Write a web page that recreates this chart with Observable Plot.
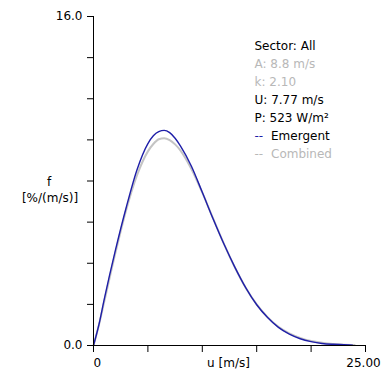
<!DOCTYPE html>
<html>
<head>
<meta charset="utf-8">
<script src="https://cdn.jsdelivr.net/npm/d3@7"></script>
<script src="https://cdn.jsdelivr.net/npm/@observablehq/plot@0.6"></script>
<style>
  html, body { margin: 0; padding: 0; background: #fff; }
  svg { display: block; }
</style>
</head>
<body>
<div id="chart"></div>
<script>
// Wind speed u [m/s] and frequency f [%/(m/s)]
const emergentU = [0, 0.5, 1, 2, 3, 4, 5, 5.5, 6, 6.5, 7, 7.5, 8, 9, 10, 11, 12, 13, 14, 15, 16, 17, 18, 19, 20, 21, 22, 23, 23.8];
const emergentF = [0, 1.02, 2.28, 4.6, 6.7, 8.55, 9.82, 10.2, 10.4, 10.46, 10.35, 10.08, 9.7, 8.72, 7.45, 6.15, 4.92, 3.8, 2.8, 1.98, 1.36, 0.88, 0.55, 0.33, 0.19, 0.1, 0.06, 0.04, 0.02];
const combinedU = [0, 0.5, 1, 2, 3, 4, 5, 5.5, 6, 6.5, 7, 7.5, 8, 9, 10, 11, 12, 13, 14, 15, 16, 17, 18, 19, 20, 21, 22, 23, 24];
const combinedF = [0, 1.0, 2.16, 4.47, 6.58, 8.28, 9.44, 9.8, 10.03, 10.08, 9.99, 9.78, 9.48, 8.58, 7.43, 6.17, 4.93, 3.79, 2.8, 2.0, 1.38, 0.91, 0.59, 0.37, 0.22, 0.13, 0.07, 0.04, 0.02];

const xTickValues = [0, 5, 10, 15, 20, 25];
const yTickValues = [0, 2, 4, 6, 8, 10, 12, 14, 16];
const yTickLabels = ["0.0", "", "", "", "", "", "", "", "16.0"];
const xStartLabel = "0";
const xEndLabel = "25.00";
const xEndValue = 25;
const xTitle = "u [m/s]";
const yTitleLines = ["f", "[%/(m/s)]"];
const legendLines = ["Sector: All", "A: 8.8 m/s", "k: 2.10", "U: 7.77 m/s", "P: 523 W/m²"];
const legendColors = ["#000", "#b8b8b8", "#b8b8b8", "#000", "#000"];
const seriesNames = ["Emergent", "Combined"];
const seriesColors = ["#1e1ea8", "#c4c4c4"];

const emergent = emergentU.map((u, i) => ({u, f: emergentF[i]}));
const combined = combinedU.map((u, i) => ({u, f: combinedF[i]}));
const yLabelMap = new Map(yTickValues.map((v, i) => [v, yTickLabels[i]]));

const font = {fontFamily: "DejaVu Sans", fontSize: 12};

const legendMarks = [];
legendLines.forEach((t, i) => {
  legendMarks.push(Plot.text([t], {frameAnchor: "top-left", textAnchor: "start", lineAnchor: "middle",
    dx: 161, dy: 29.5 + i * 18.1, fill: legendColors[i], ...font}));
});
seriesNames.forEach((name, j) => {
  const i = legendLines.length + j;
  legendMarks.push(Plot.text(["--"], {frameAnchor: "top-left", textAnchor: "start", lineAnchor: "middle",
    dx: 161, dy: 29.5 + i * 18.1, fill: j === 0 ? "#1e1ea8" : "#b8b8b8", ...font}));
  legendMarks.push(Plot.text([name], {frameAnchor: "top-left", textAnchor: "start", lineAnchor: "middle",
    dx: 161 + 16.5, dy: 29.5 + i * 18.1, fill: j === 0 ? "#000" : "#b8b8b8", ...font}));
});

const chart = Plot.plot({
  width: 386,
  height: 375,
  marginLeft: 93,
  marginRight: 21,
  marginTop: 16,
  marginBottom: 30,
  x: {domain: [0, 25]},
  y: {domain: [0, 16]},
  style: {fontFamily: "DejaVu Sans", fontSize: "12px", background: "#fff", color: "#000"},
  marks: [
    Plot.lineY(combined, {x: "u", y: "f", stroke: seriesColors[1], strokeWidth: 2, curve: "monotone-x"}),
    Plot.lineY(emergent, {x: "u", y: "f", stroke: seriesColors[0], strokeWidth: 1.4, curve: "monotone-x"}),
    Plot.ruleX([0], {stroke: "#000"}),
    Plot.ruleY([0], {stroke: "#000"}),
    Plot.axisY({ticks: yTickValues, tickSize: 6, tickPadding: 5, tickFormat: d => yLabelMap.get(d) ?? "", label: null, fontSize: 12}),
    Plot.axisX({ticks: xTickValues, tickSize: 7, tickFormat: () => "", label: null}),
    Plot.text([xStartLabel], {x: 0, frameAnchor: "bottom", textAnchor: "start", lineAnchor: "middle", dy: 17.5, ...font}),
    Plot.text([xEndLabel], {x: xEndValue, frameAnchor: "bottom", textAnchor: "middle", lineAnchor: "middle", dy: 17.5, dx: -2, ...font}),
    Plot.text([xTitle], {x: 12.5, frameAnchor: "bottom", textAnchor: "middle", lineAnchor: "middle", dy: 17.5, dx: -1, ...font}),
    Plot.text([yTitleLines[0]], {frameAnchor: "left", textAnchor: "middle", lineAnchor: "middle", dx: -44.5, dy: 1.5, ...font}),
    Plot.text([yTitleLines[1]], {frameAnchor: "left", textAnchor: "middle", lineAnchor: "middle", dx: -43.5, dy: 17.5, ...font}),
    ...legendMarks
  ]
});
document.getElementById("chart").appendChild(chart);
</script>
</body>
</html>
